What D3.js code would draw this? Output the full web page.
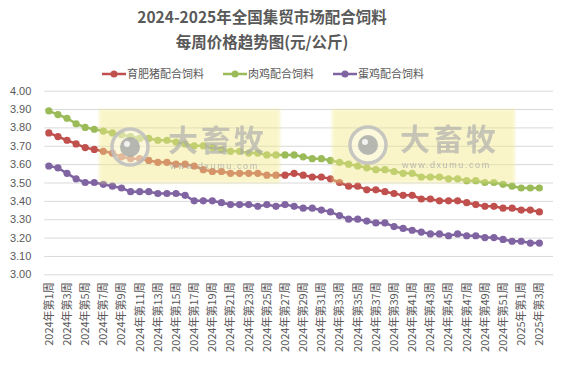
<!DOCTYPE html>
<html><head><meta charset="utf-8">
<script src="https://cdn.jsdelivr.net/npm/d3@7"></script>
<style>body{margin:0;background:#fff}svg{display:block}</style>
</head><body><svg id="c" width="568" height="367"></svg>
<script>
const weeks = [];
for (let i = 1; i <= 52; i++) weeks.push("2024年第" + i + "周");
for (let i = 1; i <= 3; i++) weeks.push("2025年第" + i + "周");

const seriesNames = ["育肥猪配合饲料", "肉鸡配合饲料", "蛋鸡配合饲料"];
const pigFeed = [3.77,3.75,3.73,3.71,3.69,3.68,3.67,3.66,3.64,3.63,3.63,3.62,3.61,3.61,3.60,3.60,3.59,3.57,3.56,3.56,3.55,3.55,3.55,3.55,3.54,3.54,3.54,3.55,3.54,3.53,3.53,3.52,3.50,3.48,3.48,3.46,3.46,3.45,3.44,3.43,3.43,3.41,3.41,3.40,3.40,3.40,3.39,3.38,3.37,3.37,3.36,3.36,3.35,3.35,3.34];
const broilerFeed = [3.89,3.87,3.85,3.82,3.80,3.79,3.78,3.77,3.76,3.75,3.74,3.74,3.73,3.73,3.72,3.71,3.70,3.70,3.69,3.68,3.67,3.67,3.66,3.66,3.65,3.65,3.65,3.65,3.64,3.63,3.63,3.62,3.61,3.60,3.59,3.58,3.57,3.57,3.56,3.55,3.55,3.53,3.53,3.53,3.52,3.52,3.51,3.51,3.50,3.50,3.49,3.48,3.47,3.47,3.47];
const layerFeed = [3.59,3.58,3.55,3.52,3.50,3.50,3.49,3.48,3.47,3.45,3.45,3.45,3.44,3.44,3.44,3.43,3.40,3.40,3.40,3.39,3.38,3.38,3.38,3.37,3.38,3.37,3.38,3.37,3.36,3.36,3.35,3.34,3.32,3.30,3.30,3.29,3.28,3.28,3.26,3.25,3.24,3.23,3.22,3.22,3.21,3.22,3.21,3.21,3.20,3.20,3.19,3.18,3.18,3.17,3.17];
const yTicks = [3.00,3.10,3.20,3.30,3.40,3.50,3.60,3.70,3.80,3.90,4.00];
const colors = ["#C0504D", "#9BBB59", "#8064A2"];
const allSeries = [pigFeed, broilerFeed, layerFeed];

const svg = d3.select("#c");
const pLeft = 44.3, pRight = 553, pTop = 90.7, pBottom = 274.3;
const step = (pRight - pLeft) / 56;
const x = d3.scaleBand().domain(weeks).range([pLeft, pLeft + step * 55]);
const y = d3.scaleLinear().domain([3, 4]).range([pBottom, pTop]);
const txt = "#595959";
const font = "'Noto Sans CJK SC', 'Liberation Sans', sans-serif";

// title
svg.append("text").attr("x", 262).attr("y", 23).attr("text-anchor", "middle")
  .attr("font-family", font).attr("font-size", 15.5).attr("font-weight", "bold").attr("fill", txt)
  .text("2024-2025年全国集贸市场配合饲料");
svg.append("text").attr("x", 262).attr("y", 48).attr("text-anchor", "middle")
  .attr("font-family", font).attr("font-size", 15.5).attr("font-weight", "bold").attr("fill", txt)
  .text("每周价格趋势图(元/公斤)");

// legend
const legX = [102, 223, 333];
seriesNames.forEach((n, i) => {
  const g = svg.append("g").attr("transform", `translate(${legX[i]},74)`);
  g.append("line").attr("x1", 0).attr("x2", 24).attr("stroke", colors[i]).attr("stroke-width", 2.5);
  g.append("circle").attr("cx", 12).attr("r", 3.5).attr("fill", colors[i]);
  g.append("text").attr("x", 25).attr("y", 4).attr("font-family", font).attr("font-size", 11)
    .attr("fill", txt).text(n);
});

// grid + y labels
const yAxis = d3.axisLeft(y).tickValues(yTicks).tickFormat(d3.format(".2f")).tickSize(-(pRight - pLeft)).tickPadding(13);
const ga = svg.append("g").attr("transform", `translate(${pLeft},0)`).call(yAxis);
ga.select(".domain").remove();
ga.selectAll(".tick line").attr("stroke", "#D9D9D9").attr("stroke-width", 1);
ga.selectAll(".tick text").attr("font-family", "'Liberation Sans', Arial, sans-serif").attr("font-size", 11).attr("fill", txt);

// x labels
const xAxis = d3.axisBottom(x).tickValues(weeks.filter((d, i) => i % 2 === 0)).tickSize(0);
const gx = svg.append("g").attr("transform", `translate(0,${pBottom})`).call(xAxis);
gx.select(".domain").remove();
gx.selectAll(".tick text").attr("transform", "rotate(-90)").attr("text-anchor", "end")
  .attr("x", -8).attr("y", 0).attr("dy", "0.35em")
  .attr("font-family", font).attr("font-size", 11).attr("fill", txt);

// series
const cx = (i) => x(weeks[i]) + x.bandwidth() / 2;
allSeries.forEach((s, k) => {
  const line = d3.line().x((d, i) => cx(i)).y(d => y(d));
  svg.append("path").datum(s).attr("d", line).attr("fill", "none")
    .attr("stroke", colors[k]).attr("stroke-width", 2.5);
  svg.append("g").selectAll("circle").data(s).join("circle")
    .attr("cx", (d, i) => cx(i)).attr("cy", d => y(d)).attr("r", 3.6).attr("fill", colors[k]);
});

// watermarks
const defs = svg.append("defs");
defs.append("filter").attr("id", "soft").append("feGaussianBlur").attr("stdDeviation", 1.5);
function watermark(x0, x1, y0, y1, lcx, lcy, tx, ty) {
  const g = svg.append("g");
  g.append("rect").attr("x", x0).attr("y", y0).attr("width", x1 - x0).attr("height", y1 - y0)
    .attr("fill", "#F2E98A").attr("opacity", 0.45).attr("filter", "url(#soft)");
  g.append("circle").attr("cx", lcx).attr("cy", lcy).attr("r", 18).attr("fill", "#ffffff").attr("fill-opacity", 0.35)
    .attr("stroke", "#BDBDBD").attr("stroke-width", 3.5).attr("stroke-opacity", 0.85);
  g.append("circle").attr("cx", lcx).attr("cy", lcy).attr("r", 10).attr("fill", "#A6A6A6").attr("opacity", 0.8);
  g.append("circle").attr("cx", lcx - 3).attr("cy", lcy - 3).attr("r", 3).attr("fill", "#ffffff").attr("opacity", 0.8);
  g.append("text").attr("x", tx).attr("y", ty).attr("font-family", font).attr("font-size", 30)
    .attr("font-weight", "bold").attr("fill", "#ABABAB").attr("opacity", 0.65).attr("letter-spacing", 3).text("大畜牧");
  g.append("text").attr("x", tx + 2).attr("y", ty + 18).attr("font-family", "'Liberation Sans', Arial, sans-serif")
    .attr("font-size", 9).attr("fill", "#A6A6A6").attr("opacity", 0.75).attr("letter-spacing", 1.6).text("www.dxumu.com");
}
watermark(99, 280, 109, 183, 130, 147, 168, 151);
watermark(332, 515, 109, 183, 368, 145, 400, 150);
</script></body></html>
